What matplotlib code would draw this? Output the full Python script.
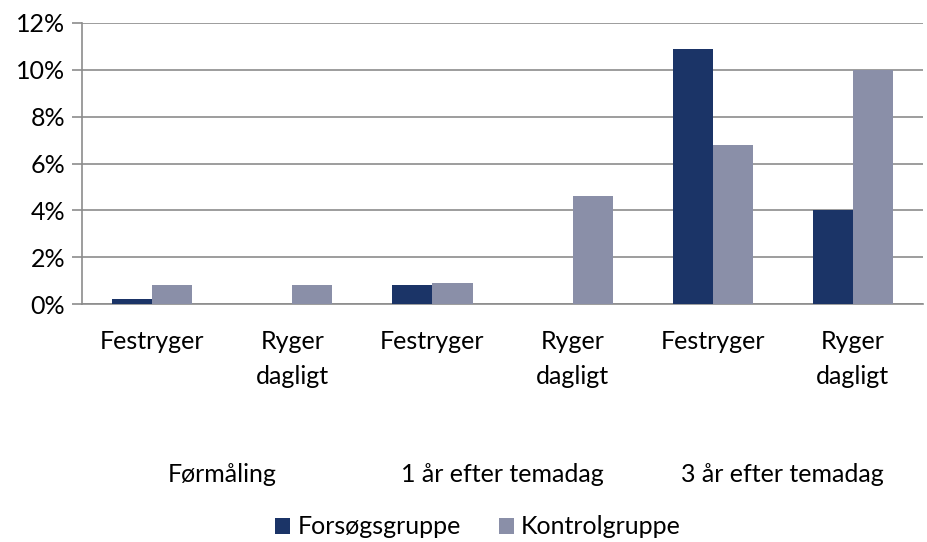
import matplotlib
matplotlib.use("Agg")
import matplotlib.pyplot as plt
import numpy as np
from matplotlib.ticker import FuncFormatter
from matplotlib.transforms import blended_transform_factory

plt.rcParams['font.family'] = ['Lato', 'DejaVu Sans']

categories = ["Festryger", "Ryger\ndagligt", "Festryger", "Ryger\ndagligt", "Festryger", "Ryger\ndagligt"]
groups = ["Førmåling", "1 år efter temadag", "3 år efter temadag"]
forsog = [0.2, 0.0, 0.8, 0.0, 10.9, 4.0]
kontrol = [0.8, 0.8, 0.9, 4.6, 6.8, 10.0]
yticks = [0, 2, 4, 6, 8, 10, 12]

c_dark = "#1B3467"
c_light = "#8A8FA8"
grid_c = "#8C8C8C"
FS = 18

fig = plt.figure(figsize=(9.27, 5.42), dpi=100)
ax = fig.add_axes([82/927, 1-304/542, (923-82)/927, (304-23)/542])

x = np.arange(len(categories))
w = 0.286
ax.bar(x - w/2, forsog, w, color=c_dark, label="Forsøgsgruppe", zorder=3)
ax.bar(x + w/2, kontrol, w, color=c_light, label="Kontrolgruppe", zorder=3)

ax.set_xlim(-0.5, len(categories) - 0.5)
ax.set_ylim(0, 12)
ax.set_yticks(yticks)
ax.yaxis.set_major_formatter(FuncFormatter(lambda v, p: f"{int(v)}%"))
ax.yaxis.grid(True, color=grid_c, linewidth=1.2, zorder=0)
ax.set_axisbelow(True)
for s in ["top", "right"]:
    ax.spines[s].set_visible(False)
ax.spines["left"].set_color(grid_c)
ax.spines["bottom"].set_color(grid_c)
ax.spines["left"].set_linewidth(1.2)
ax.spines["bottom"].set_linewidth(1.2)
ax.tick_params(axis="y", length=7, width=1.2, color=grid_c, labelsize=FS, pad=5)
ax.tick_params(axis="x", length=0, labelsize=FS, pad=19)
ax.set_xticks(x)
ax.set_xticklabels(categories, linespacing=1.6)

tr = blended_transform_factory(ax.transData, ax.transAxes)
for i, g in enumerate(groups):
    ax.text(2*i + 0.5, (304-475)/281, g, ha="center", va="center", fontsize=FS,
            transform=tr, clip_on=False)

leg = fig.legend(loc="center", bbox_to_anchor=(478/927, 1-527/542), ncol=2,
                 frameon=False, fontsize=FS, handlelength=0.6, handleheight=0.6,
                 handletextpad=0.3, columnspacing=1.5)

fig.savefig("out.png", dpi=100)
